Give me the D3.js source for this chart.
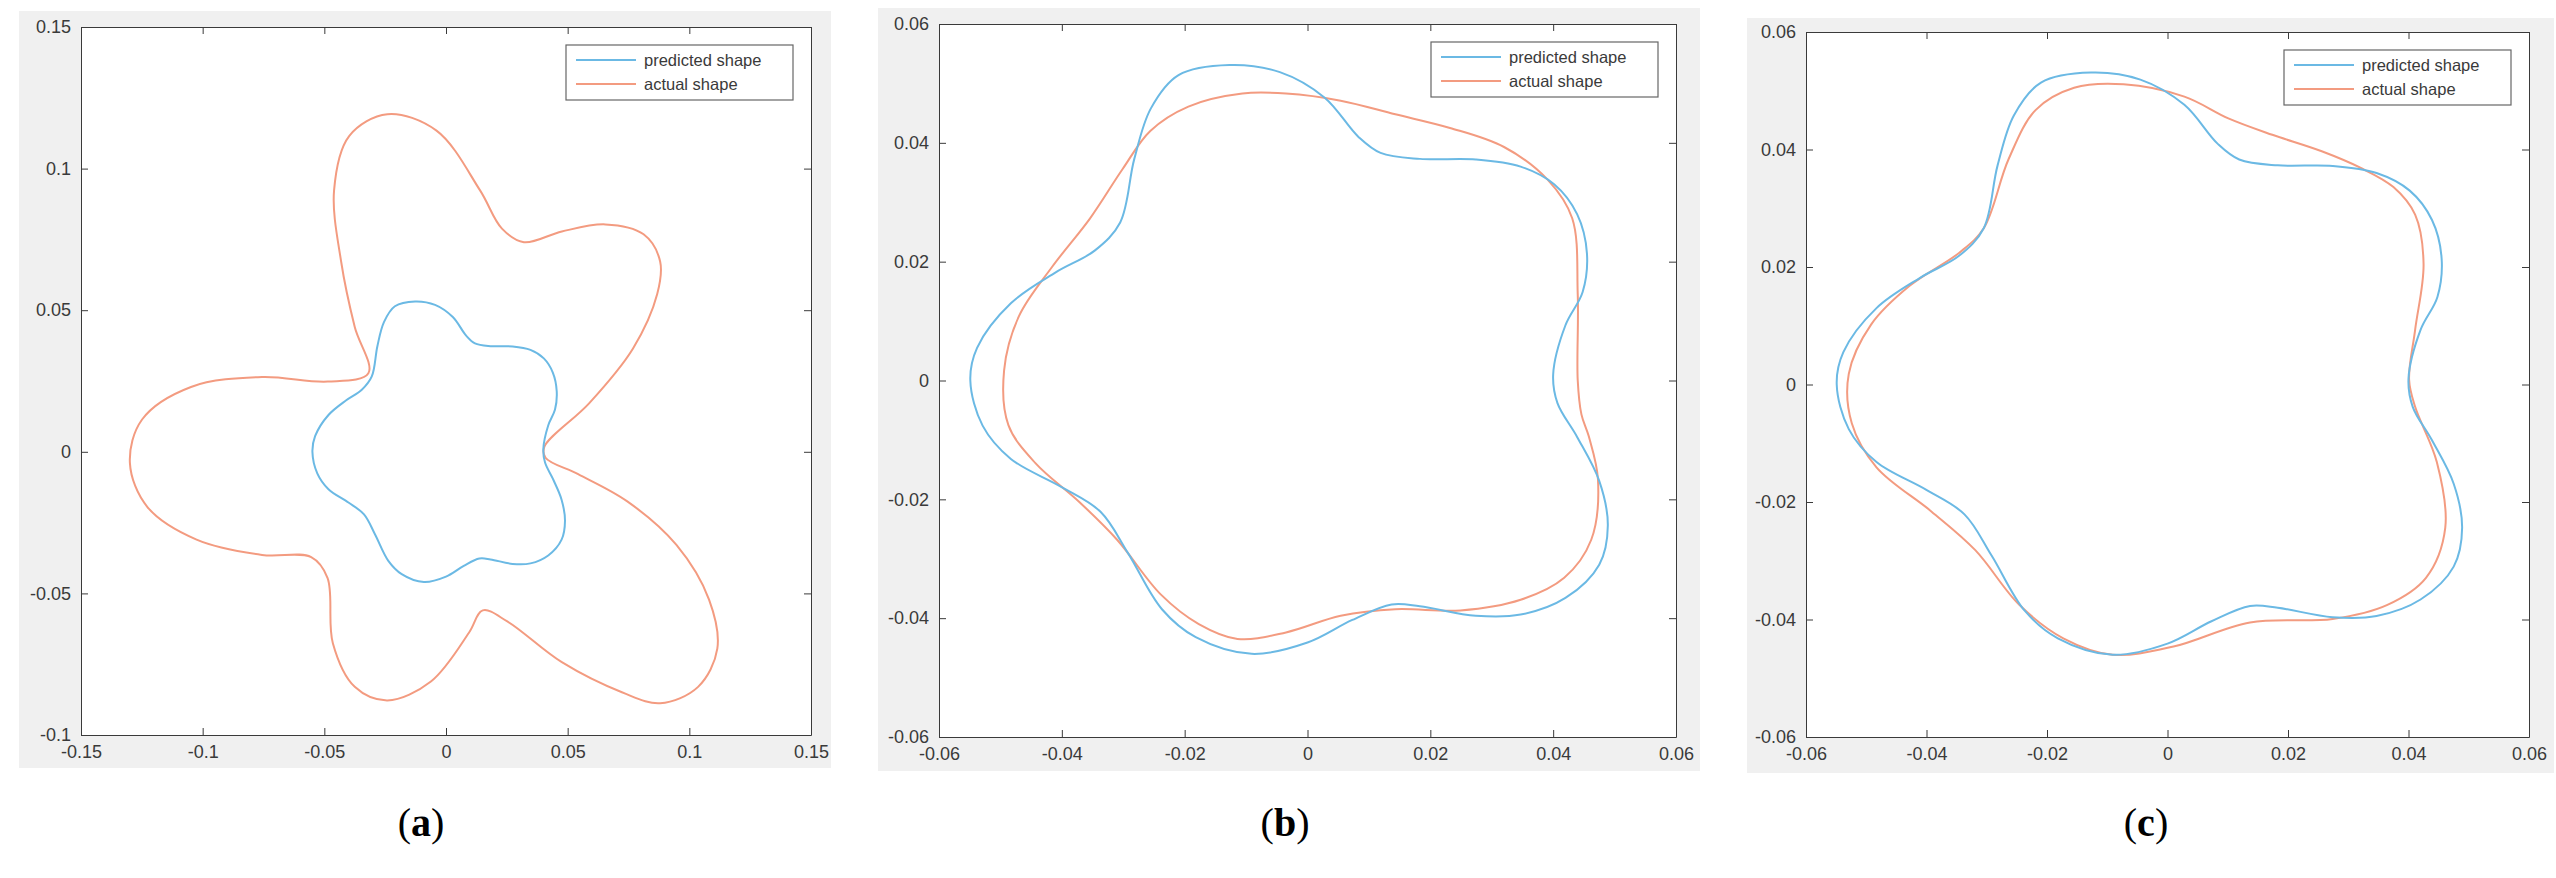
<!DOCTYPE html>
<html><head><meta charset="utf-8">
<script src="https://cdn.jsdelivr.net/npm/d3@7"></script>
<style>body{margin:0;background:#fff}svg{display:block}</style>
</head><body>
<svg id="c" width="2556" height="878"></svg>
<script>
const predicted = [[0.040,0.001],[0.042,0.0093],[0.0448,0.0149],[0.0455,0.0214],[0.0439,0.028],[0.0402,0.033],[0.0347,0.036],[0.0274,0.0372],[0.0183,0.0373],[0.0119,0.0383],[0.0083,0.041],[0.0028,0.0476],[-0.0045,0.0519],[-0.0127,0.0531],[-0.021,0.0514],[-0.0255,0.0458],[-0.0282,0.0373],[-0.0305,0.0266],[-0.0346,0.0219],[-0.041,0.0182],[-0.0483,0.013],[-0.0538,0.0055],[-0.0549,0],[-0.0529,-0.0076],[-0.0483,-0.0132],[-0.0401,-0.0179],[-0.0337,-0.0221],[-0.0292,-0.0291],[-0.0237,-0.0385],[-0.0182,-0.0432],[-0.0091,-0.046],[0,-0.0441],[0.0073,-0.0403],[0.0137,-0.0377],[0.0183,-0.038],[0.0274,-0.0396],[0.0347,-0.0394],[0.042,-0.0366],[0.0475,-0.031],[0.0489,-0.0244],[0.0475,-0.0169],[0.0439,-0.0095],[0.0407,-0.0038]];
const actualA = [[0.0404,0.0017],[0.0588,0.0171],[0.0768,0.0364],[0.0868,0.0557],[0.088,0.0672],[0.0812,0.0768],[0.0655,0.0803],[0.0476,0.0778],[0.032,0.074],[0.023,0.0788],[0.014,0.0923],[-0.0039,0.1134],[-0.0241,0.1192],[-0.0398,0.1115],[-0.046,0.0923],[-0.0431,0.0672],[-0.0375,0.0441],[-0.0319,0.0277],[-0.0486,0.0248],[-0.0756,0.0264],[-0.1048,0.0229],[-0.1249,0.0114],[-0.1299,-0.004],[-0.1227,-0.0195],[-0.1025,-0.031],[-0.0756,-0.0364],[-0.0554,-0.0372],[-0.0487,-0.0445],[-0.0465,-0.0676],[-0.0375,-0.083],[-0.0241,-0.0878],[-0.0062,-0.0811],[0.0095,-0.0638],[0.0151,-0.056],[0.0252,-0.0599],[0.0476,-0.0743],[0.0723,-0.0849],[0.088,-0.0888],[0.1036,-0.083],[0.1115,-0.0695],[0.1081,-0.0522],[0.0947,-0.0329],[0.0745,-0.0175],[0.0543,-0.0079],[0.0409,-0.0021]];
const actualB = [[0.044,0],[0.044,0.0145],[0.0431,0.0273],[0.0391,0.0338],[0.032,0.0393],[0.0232,0.0425],[0.0143,0.0448],[0.0054,0.0471],[-0.0035,0.0483],[-0.0106,0.0483],[-0.0194,0.0461],[-0.0256,0.042],[-0.0301,0.0356],[-0.0354,0.0273],[-0.0416,0.0191],[-0.047,0.0108],[-0.0494,0.0017],[-0.0487,-0.0075],[-0.0443,-0.0139],[-0.0372,-0.0204],[-0.031,-0.0268],[-0.0239,-0.036],[-0.0177,-0.041],[-0.0114,-0.0435],[-0.0035,-0.0424],[0.0054,-0.0396],[0.0143,-0.0385],[0.0249,-0.0387],[0.0347,-0.0369],[0.0418,-0.0332],[0.0462,-0.0268],[0.0473,-0.0167],[0.0458,-0.0094],[0.0446,-0.0057]];
const actualC = [[0.0401,0.0008],[0.0411,0.0093],[0.0425,0.0205],[0.0411,0.0289],[0.0375,0.0336],[0.032,0.0369],[0.0256,0.0397],[0.0174,0.0425],[0.0101,0.0453],[0.0028,0.049],[-0.0073,0.0511],[-0.0155,0.0505],[-0.0219,0.0467],[-0.0264,0.0383],[-0.0305,0.0266],[-0.0346,0.0224],[-0.0428,0.0168],[-0.0492,0.0102],[-0.0529,0.0018],[-0.0524,-0.0066],[-0.0483,-0.0141],[-0.0392,-0.0216],[-0.0319,-0.0282],[-0.0246,-0.0375],[-0.0173,-0.0432],[-0.0091,-0.046],[0.001,-0.0446],[0.0137,-0.0405],[0.0274,-0.0399],[0.0365,-0.0375],[0.0429,-0.0329],[0.0461,-0.0244],[0.0447,-0.0132],[0.0411,-0.0038]];
const ticksA_x = [-0.15,-0.1,-0.05,0,0.05,0.1,0.15];
const ticksA_y = [-0.1,-0.05,0,0.05,0.1,0.15];
const ticksBC = [-0.06,-0.04,-0.02,0,0.02,0.04,0.06];
const legendLabels = ["predicted shape","actual shape"];
const captions = ["(a)","(b)","(c)"];

const BLUE="#6bb9e4", ORANGE="#f39b80";
const svg=d3.select("#c");
const panels=[
 {bg:[19,11,812,757],ax:[81,27,811,735],xd:[-0.15,0.15],yd:[-0.1,0.15],xt:ticksA_x,yt:ticksA_y,pred:predicted,act:actualA,cap:captions[0],cx:421},
 {bg:[878,8,822,763],ax:[939,24,1676,737],xd:[-0.06,0.06],yd:[-0.06,0.06],xt:ticksBC,yt:ticksBC,pred:predicted,act:actualB,cap:captions[1],cx:1285},
 {bg:[1747,18,807,755],ax:[1806,32,2529,737],xd:[-0.06,0.06],yd:[-0.06,0.06],xt:ticksBC,yt:ticksBC,pred:predicted,act:actualC,cap:captions[2],cx:2146}
];
const fmt=v=>v===0?"0":String(+v.toFixed(2));
panels.forEach(p=>{
 const g=svg.append("g");
 g.append("rect").attr("x",p.bg[0]).attr("y",p.bg[1]).attr("width",p.bg[2]).attr("height",p.bg[3]).attr("fill","#f0f0f0");
 const [x0,y0,x1,y1]=p.ax;
 g.append("rect").attr("x",x0).attr("y",y0).attr("width",x1-x0).attr("height",y1-y0).attr("fill","#fff");
 const x=d3.scaleLinear().domain(p.xd).range([x0,x1]);
 const y=d3.scaleLinear().domain(p.yd).range([y1,y0]);
 const style=s=>{s.select(".domain").attr("stroke","#3a3a3a");s.selectAll(".tick line").attr("stroke","#3a3a3a");
   s.selectAll("text").attr("fill","#3a3a3a").attr("font-family","Liberation Sans, Arial").attr("font-size",18);};
 g.append("g").attr("transform",`translate(0,${y1})`).call(d3.axisBottom(x).tickValues(p.xt).tickFormat(fmt).tickSizeInner(-7).tickSizeOuter(0).tickPadding(10)).call(style);
 g.append("g").attr("transform",`translate(0,${y0})`).call(d3.axisTop(x).tickValues(p.xt).tickFormat("").tickSizeInner(-7).tickSizeOuter(0)).call(style);
 g.append("g").attr("transform",`translate(${x0},0)`).call(d3.axisLeft(y).tickValues(p.yt).tickFormat(fmt).tickSizeInner(-7).tickSizeOuter(0).tickPadding(10)).call(style);
 g.append("g").attr("transform",`translate(${x1},0)`).call(d3.axisRight(y).tickValues(p.yt).tickFormat("").tickSizeInner(-7).tickSizeOuter(0)).call(style);
 const line=d3.line().x(d=>x(d[0])).y(d=>y(d[1])).curve(d3.curveCatmullRomClosed.alpha(0.5));
 g.append("path").attr("d",line(p.act)).attr("fill","none").attr("stroke",ORANGE).attr("stroke-width",2);
 g.append("path").attr("d",line(p.pred)).attr("fill","none").attr("stroke",BLUE).attr("stroke-width",2);
 const lw=227,lh=55,lx=x1-18-lw,ly=y0+18;
 const lg=g.append("g");
 lg.append("rect").attr("x",lx).attr("y",ly).attr("width",lw).attr("height",lh).attr("fill","#fff").attr("stroke","#666").attr("stroke-width",1.2);
 [BLUE,ORANGE].forEach((c,i)=>{
   const yy=ly+15+i*24;
   lg.append("line").attr("x1",lx+10).attr("x2",lx+70).attr("y1",yy).attr("y2",yy).attr("stroke",c).attr("stroke-width",2);
   lg.append("text").attr("x",lx+78).attr("y",yy+6).text(legendLabels[i]).attr("font-family","Liberation Sans, Arial").attr("font-size",16.5).attr("fill","#3a3a3a");
 });
 g.append("text").attr("x",p.cx).attr("y",836).attr("text-anchor","middle").attr("font-family","Liberation Serif, Times New Roman").attr("font-size",40).attr("fill","#000")
  .selectAll("tspan").data(["(",p.cap.slice(1,-1),")"]).join("tspan").attr("font-weight",(d,i)=>i===1?"bold":"normal").text(d=>d);
});
</script>
</body></html>
